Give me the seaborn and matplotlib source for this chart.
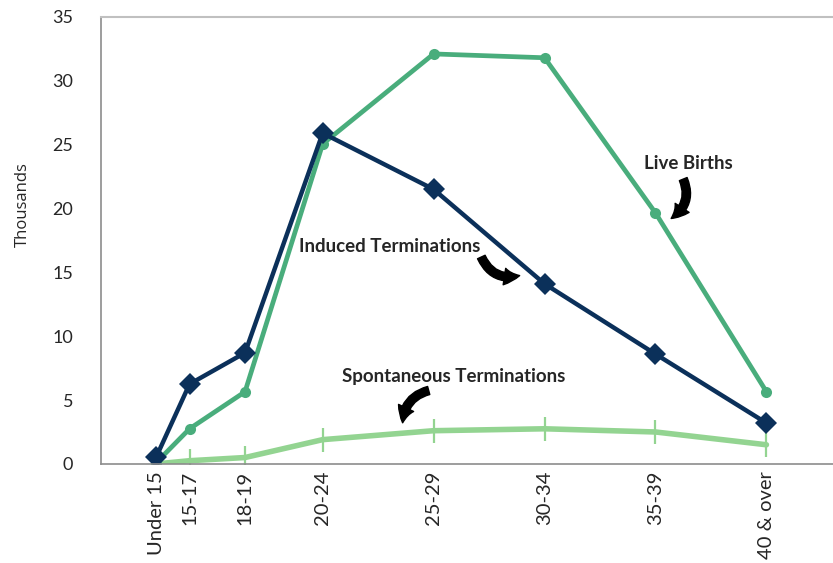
import matplotlib
matplotlib.use("Agg")
import matplotlib.pyplot as plt
import pandas as pd
import seaborn as sns

age_groups = ["Under 15", "15-17", "18-19", "20-24", "25-29", "30-34", "35-39", "40 & over"]
# age-group midpoints, the chart spaces categories by age
age_mid = [14.5, 16, 18.5, 22, 27, 32, 37, 42]
induced = [0.55, 6.25, 8.7, 25.9, 21.5, 14.1, 8.6, 3.2]
live_births = [0.1, 2.75, 5.65, 25.05, 32.1, 31.8, 19.65, 5.65]
spontaneous = [0.0, 0.25, 0.5, 1.9, 2.6, 2.75, 2.5, 1.5]

df = pd.DataFrame({"age": age_mid, "Induced": induced,
                   "Live": live_births, "Spont": spontaneous})

sns.set_style("white")
plt.rcParams["font.family"] = ["Lato", "DejaVu Sans"]

fig = plt.figure(figsize=(8.33, 5.63), dpi=100)
ax = fig.add_axes([0.121, 0.176, 0.879, 0.794])

sns.lineplot(data=df, x="age", y="Spont", ax=ax, color="#93d491", linewidth=4,
             marker="|", markersize=17, markeredgewidth=1.6, markeredgecolor="#93d491")
sns.lineplot(data=df, x="age", y="Live", ax=ax, color="#49ad7c", linewidth=3.4,
             marker="o", markersize=8, markeredgewidth=0)
sns.lineplot(data=df, x="age", y="Induced", ax=ax, color="#0b305a", linewidth=3.2,
             marker="D", markersize=11, markeredgewidth=0)

ax.set_xlim(12, 45)
ax.set_ylim(0, 35)
ax.set_xticks(age_mid)
ax.set_xticklabels(age_groups, rotation=90, fontsize=14.5)
ax.set_yticks(range(0, 36, 5))
ax.tick_params(axis="y", labelsize=13, length=0, pad=20)
ax.tick_params(axis="x", length=0, pad=5)
ax.set_xlabel("")
ax.set_ylabel("Thousands", fontsize=12, family=["Open Sans", "DejaVu Sans"])
ax.yaxis.set_label_coords(-0.095, 0.58)

for side in ["left", "bottom"]:
    ax.spines[side].set_color("#8c8c8c")
    ax.spines[side].set_linewidth(1.2)
ax.spines["top"].set_color("#c0c0c0")
ax.spines["top"].set_linewidth(1.5)
ax.spines["right"].set_visible(False)

arrow = dict(arrowstyle="simple,head_length=1.1,head_width=1.2,tail_width=0.6",
             color="black")
ax.text(38.5, 23.1, "Live Births", fontsize=13.5, fontweight="bold", ha="center")
ax.annotate("", xy=(37.6, 19.1), xytext=(38.2, 22.5),
            arrowprops=dict(connectionstyle="arc3,rad=-0.45", **arrow))
ax.text(25.0, 16.6, "Induced Terminations", fontsize=13.5, fontweight="bold", ha="center")
ax.annotate("", xy=(31.0, 14.8), xytext=(29.1, 16.4),
            arrowprops=dict(connectionstyle="arc3,rad=0.45", **arrow))
ax.text(27.9, 6.4, "Spontaneous Terminations", fontsize=13.5, fontweight="bold", ha="center")
ax.annotate("", xy=(25.6, 3.0), xytext=(26.9, 5.8),
            arrowprops=dict(connectionstyle="arc3,rad=0.4", **arrow))

fig.savefig("out.png", dpi=100)
